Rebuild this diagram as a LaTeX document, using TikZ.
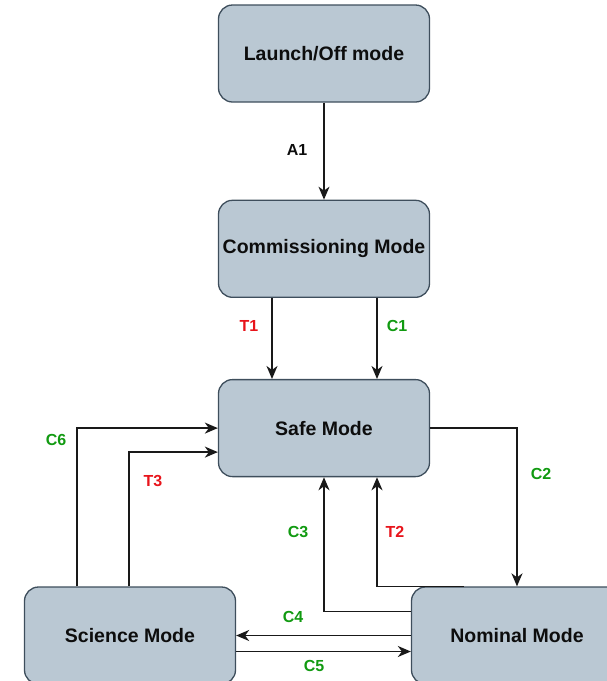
\documentclass[tikz,border=0pt]{standalone}
\usepackage{fontspec}
\setmainfont{Liberation Sans}
\usepackage{tikz}
\usetikzlibrary{positioning}
\usetikzlibrary{calc,arrows.meta}
\definecolor{boxfill}{HTML}{BAC8D3}
\definecolor{boxline}{HTML}{3E4E5C}
\definecolor{lblgreen}{HTML}{119A11}
\definecolor{lblred}{HTML}{E8141B}

\begin{document}
\begin{tikzpicture}[
x=1pt, y=1pt,
modenode/.style={rectangle, rounded corners=14pt, draw=boxline, fill=boxfill, line width=1.3pt, minimum width=211pt, minimum height=97pt, font=\fontsize{19.5}{22}\selectfont\bfseries, text=black!95},
greenlbl/.style={font=\fontsize{16}{18}\selectfont\bfseries, text=lblgreen},
redlbl/.style={font=\fontsize{16}{18}\selectfont\bfseries, text=lblred},
blacklbl/.style={font=\fontsize{16}{18}\selectfont\bfseries, text=black!95},
conn/.style={line width=1.5pt, draw=black!90, -{Stealth[length=13pt,width=11pt,inset=4pt]}},
]
\useasboundingbox (0,0) rectangle (606,-681);

%Nodes
\node[modenode]        (launch)                                  at (324,-53.5) {Launch/Off mode};
\node[modenode]        (comm)         [below=97pt of launch]     {Commissioning Mode};
\node[modenode]        (safe)         [below=81pt of comm]       {Safe Mode};
\node[modenode]        (science)                                 at (130,-635.5) {Science Mode};
\node[modenode]        (nominal)                                 at (517,-635.5) {Nominal Mode};

%Lines
\draw[conn] (launch.south) -- (comm.north);
\draw[conn] ([xshift=-52pt]comm.south) -- ([xshift=-52pt]safe.north);
\draw[conn] ([xshift=53pt]comm.south) -- ([xshift=53pt]safe.north);
\draw[conn] ([xshift=-53pt]science.north) |- (safe.west);
\draw[conn] ([xshift=-1pt]science.north) |- ([yshift=-24pt]safe.west);
\draw[conn] (safe.east) -| (nominal.north);
\draw[conn] ([yshift=24pt]nominal.west) -| (safe.south);
\draw[conn] ([xshift=-53pt]nominal.north) -| ([xshift=53pt]safe.south);
\draw[conn] (nominal.west) -- (science.east);
\draw[conn] ([yshift=-16pt]science.east) -- ([yshift=-16pt]nominal.west);

%Text
\node[blacklbl] (a1) at (297,-150) {A1};
\node[redlbl]   (t1) at (249,-326) {T1};
\node[greenlbl] (c1) at (397,-326) {C1};
\node[greenlbl] (c6) at (56,-440)  {C6};
\node[redlbl]   (t3) at (153,-481) {T3};
\node[greenlbl] (c2) at (541,-474) {C2};
\node[greenlbl] (c3) at (298,-532) {C3};
\node[redlbl]   (t2) at (395,-532) {T2};
\node[greenlbl] (c4) at (293,-617) {C4};
\node[greenlbl] (c5) at (314,-666) {C5};
\end{tikzpicture}
\end{document}
